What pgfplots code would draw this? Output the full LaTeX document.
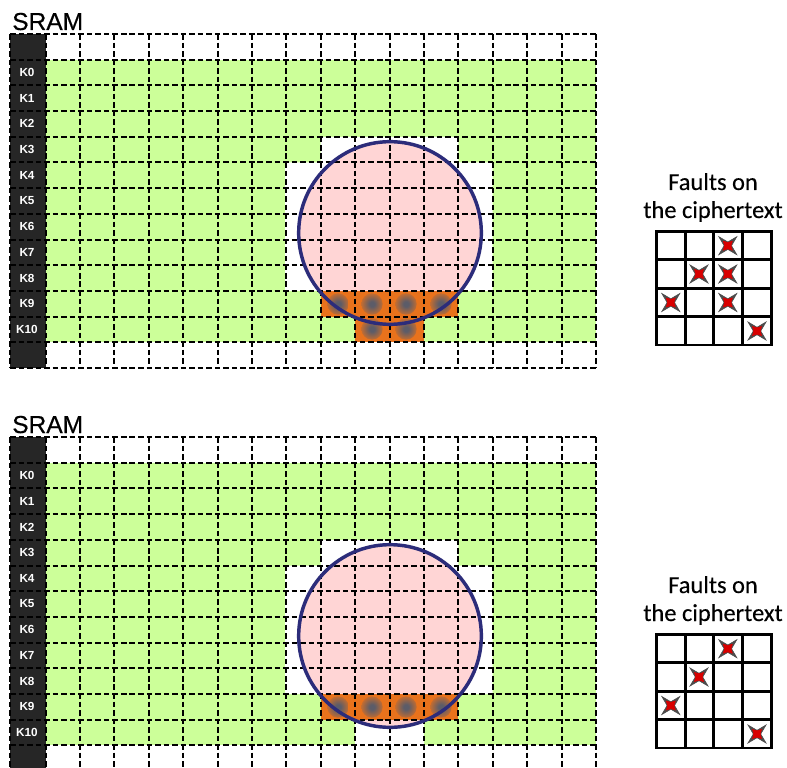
\documentclass[border=0pt]{standalone}
\usepackage{pgfplots}
\pgfplotsset{compat=1.18}
\usepackage{fontspec}
\setmainfont{Liberation Sans}
\newfontfamily\carlito[FakeBold=0.25]{Carlito}
\newfontfamily\sramfont[FakeBold=0.5]{Liberation Sans}

\definecolor{cellgreen}{HTML}{CCFF99}
\definecolor{cellpink}{HTML}{FFD5D5}
\definecolor{cellorange}{HTML}{E8721C}
\definecolor{blobgray}{HTML}{5C5C68}
\definecolor{circleblue}{HTML}{2C2C7A}
\definecolor{keyblack}{HTML}{262626}

% one picture pixel = 0.75pt
\pgfdeclareradialshading{blobshade}{\pgfpointorigin}{color(0bp)=(blobgray); color(6bp)=(blobgray); color(18bp)=(blobgray!55!cellorange); color(32bp)=(cellorange); color(100bp)=(cellorange)}
\pgfdeclareplotmark{blob}{\shade[shading=blobshade,draw=none] (0,0) circle (8pt);}
\pgfdeclareplotmark{ring}{\draw[circleblue,line width=2.6pt] (0,0) circle (68.5pt);}
\pgfdeclareplotmark{disc}{\fill[cellpink] (0,0) circle (68.5pt);}
\pgfdeclareplotmark{fault}{%
  \fill[gray!60!black] (-6.8pt,-6.8pt) -- (0,-2.8pt) -- (6.8pt,-6.8pt) -- (2.8pt,0) -- (6.8pt,6.8pt) -- (0,2.8pt) -- (-6.8pt,6.8pt) -- (-2.8pt,0) -- cycle;
  \fill[red!85!black] (-3.4pt,-3.4pt) -- (0,-2.4pt) -- (3.4pt,-3.4pt) -- (2.4pt,0) -- (3.4pt,3.4pt) -- (0,2.4pt) -- (-3.4pt,3.4pt) -- (-2.4pt,0) -- cycle;
}

\pgfplotsset{panel/.style={
    scale only axis, hide axis,
    clip mode=individual,
    width=590.25pt,
    xmin=0, xmax=787, ymin=0,
    y dir=reverse,
}}

% #1 height in px, #2 vertical position, #3 extra K10 cells, #4 blobs, #5 faults
\newcommand{\panel}[5]{%
\begin{axis}[panel, ymax=#1, height=#1*0.75pt, at={(0,#2)}, anchor=south west]
\addplot[fill=keyblack,draw=none] coordinates {(10,34)(45.5,34)(45.5,368)(10,368)} -- cycle;
\addplot[fill=cellgreen,draw=none] coordinates {(45.5,59.7)(596,59.7)(596,342.4)(45.5,342.4)} -- cycle;
\addplot[fill=white,draw=none] coordinates {(320.7,136.8)(458.3,136.8)(458.3,162.5)(492.7,162.5)(492.7,291)(285,291)(285,162.5)(320.7,162.5)} -- cycle;
\addplot[fill=white,draw=none] coordinates {(355.1,316.7)(423.9,316.7)(423.9,342.4)(355.1,342.4)} -- cycle;
\addplot[only marks,mark=disc] coordinates {(390,233)};
\addplot[fill=cellorange,draw=none] coordinates {(320.7,291)(458.3,291)(458.3,316.7)(320.7,316.7)} -- cycle;
#3
\addplot[only marks,mark=blob] coordinates {#4};
\pgfplotsinvokeforeach{10,45.5,79.9,114.3,148.7,183.1,217.5,251.9,286.3,320.7,355.1,389.5,423.9,458.3,492.7,527.1,561.5,595.9}{
  \addplot[black,line width=1.5pt,dash pattern=on 4.2pt off 2.2pt] coordinates {(##1,34)(##1,368)};
}
\pgfplotsinvokeforeach{34,59.7,85.4,111.1,136.8,162.5,188.2,213.9,239.6,265.3,291,316.7,342.4,368.1}{
  \addplot[black,line width=1.5pt,dash pattern=on 4.2pt off 2.2pt] coordinates {(10,##1)(596,##1)};
}
\addplot[only marks,mark=ring] coordinates {(390,233)};
\addplot[only marks,mark=none,point meta=explicit symbolic,
  nodes near coords,nodes near coords align={center},
  every node near coord/.append style={white,font=\fontsize{8.8pt}{10pt}\selectfont\bfseries,inner sep=0pt}]
  coordinates {(27,72.5)[K0](27,98.2)[K1](27,123.9)[K2](27,149.6)[K3](27,175.3)[K4](27,201)[K5](27,226.7)[K6](27,252.4)[K7](27,278.1)[K8](27,303.8)[K9](27,329.5)[K10]};
% ciphertext state
\pgfplotsinvokeforeach{656.5,685.2,713.9,742.6,771.3}{
  \addplot[black,line width=2.2pt,line cap=rect] coordinates {(##1,231.5)(##1,345)};
}
\pgfplotsinvokeforeach{231.5,259.9,288.3,316.7,345}{
  \addplot[black,line width=2.2pt,line cap=rect] coordinates {(656.5,##1)(771.3,##1)};
}
\addplot[only marks,mark=fault] coordinates {#5};
\node[anchor=base west,inner sep=0pt,font=\sramfont\fontsize{18.4pt}{20pt}\selectfont] at (axis cs:12,30) {SRAM};
\node[anchor=base,inner sep=0pt,font=\carlito\fontsize{18.3pt}{20pt}\selectfont] at (axis cs:713,190) {Faults on};
\node[anchor=base,inner sep=0pt,font=\carlito\fontsize{18.3pt}{20pt}\selectfont] at (axis cs:713,218) {the ciphertext};
\end{axis}}

\begin{document}
\begin{tikzpicture}
\path[use as bounding box] (0,0) rectangle (590.25pt,575.25pt);
\panel{403}{273pt}
  {\addplot[fill=cellorange,draw=none] coordinates {(355.1,316.7)(423.9,316.7)(423.9,342.4)(355.1,342.4)} -- cycle;}
  {(338,304)(372,304)(406,304)(441,304)(372,329)(406,329)}
  {(727.8,245.7)(699,274)(727.8,274)(670.8,302.5)(727.8,302.5)(757,331)}
\panel{364}{0pt}
  {}
  {(338,304)(372,304)(406,304)(441,304)}
  {(727.8,245.7)(699,274)(670.8,302.5)(757,331)}
\end{tikzpicture}
\end{document}
